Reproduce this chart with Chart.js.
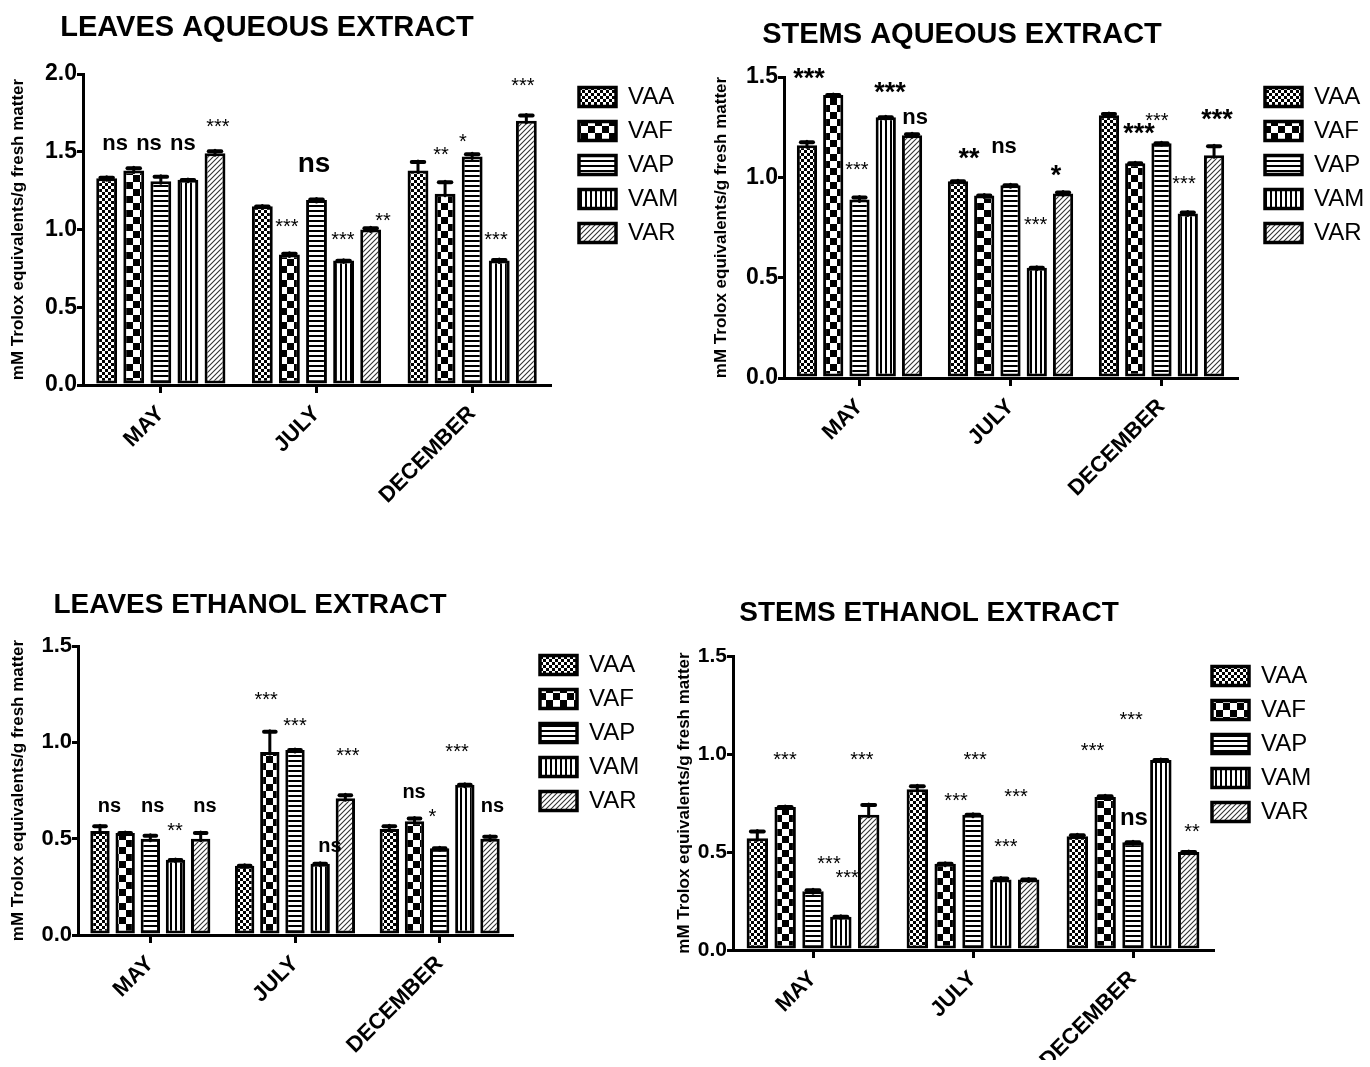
<!DOCTYPE html>
<html><head><meta charset="utf-8">
<script src="https://cdn.jsdelivr.net/npm/chart.js@4.4.1/dist/chart.umd.min.js"></script>
<style>
html,body{margin:0;padding:0;background:#fff;width:1370px;height:1067px;overflow:hidden;position:relative}
canvas{position:absolute}
</style></head><body>
<canvas id="c1"></canvas><canvas id="c2"></canvas><canvas id="c3"></canvas><canvas id="c4"></canvas>
<script>
// ---------- DATA ----------
const months = ['MAY', 'JULY', 'DECEMBER'];
const seriesNames = ['VAA', 'VAF', 'VAP', 'VAM', 'VAR'];
const yLabel = 'mM Trolox equivalents/g fresh matter';
const ticks20 = ['0.0', '0.5', '1.0', '1.5', '2.0'];
const ticks15 = ['0.0', '0.5', '1.0', '1.5'];

// Leaves aqueous extract (rows = VAA, VAF, VAP, VAM, VAR; cols = months)
const laMeans = [[1.33, 1.15, 1.38], [1.38, 0.84, 1.23], [1.31, 1.19, 1.47], [1.32, 0.80, 0.80], [1.49, 1.00, 1.70]];
const laErrors = [[0.01, 0.005, 0.06], [0.02, 0.01, 0.08], [0.035, 0.01, 0.02], [0.005, 0.005, 0.01], [0.02, 0.015, 0.04]];
// Stems aqueous extract
const saMeans = [[1.16, 0.98, 1.31], [1.41, 0.91, 1.07], [0.89, 0.96, 1.17], [1.30, 0.55, 0.82], [1.21, 0.92, 1.11]];
const saErrors = [[0.02, 0.005, 0.01], [0.005, 0.005, 0.005], [0.015, 0.005, 0.005], [0.005, 0.005, 0.01], [0.01, 0.01, 0.05]];
// Leaves ethanol extract
const leMeans = [[0.54, 0.36, 0.55], [0.53, 0.95, 0.59], [0.50, 0.96, 0.45], [0.39, 0.37, 0.78], [0.50, 0.71, 0.50]];
const leErrors = [[0.03, 0.005, 0.02], [0.005, 0.11, 0.02], [0.02, 0.005, 0.005], [0.005, 0.005, 0.005], [0.035, 0.02, 0.015]];
// Stems ethanol extract
const seMeans = [[0.57, 0.82, 0.58], [0.73, 0.44, 0.78], [0.30, 0.69, 0.55], [0.17, 0.36, 0.97], [0.69, 0.36, 0.50]];
const seErrors = [[0.04, 0.02, 0.01], [0.005, 0.005, 0.01], [0.01, 0.005, 0.005], [0.005, 0.01, 0.005], [0.055, 0.005, 0.005]];

// Significance labels: [text, category position (index units), value, class]
const laNotes = [['ns', -0.294, 1.553, 'B'], ['ns', -0.076, 1.553, 'B'], ['ns', 0.142, 1.553, 'B'], ['***', 0.367, 1.688, 'S'],
  ['ns', 0.984, 1.419, 'D'], ['***', 0.81, 1.041, 'S'], ['***', 1.17, 0.961, 'S'], ['**', 1.427, 1.08, 'S'],
  ['**', 1.80, 1.505, 'S'], ['*', 1.941, 1.591, 'S'], ['***', 2.153, 0.961, 'S'], ['***', 2.326, 1.951, 'S']];
const saNotes = [['***', -0.334, 1.517, 'L'], ['***', -0.017, 1.056, 'S'], ['***', 0.202, 1.447, 'L'], ['ns', 0.368, 1.298, 'B'],
  ['**', 0.725, 1.119, 'L'], ['ns', 0.957, 1.149, 'B'], ['***', 1.167, 0.784, 'S'], ['*', 1.301, 1.036, 'L'],
  ['***', 1.851, 1.241, 'L'], ['***', 1.970, 1.302, 'S'], ['***', 2.149, 0.988, 'S'], ['***', 2.368, 1.312, 'L']];
const leNotes = [['ns', -0.282, 0.665, 'A'], ['ns', 0.016, 0.665, 'A'], ['**', 0.170, 0.562, 'S'], ['ns', 0.378, 0.665, 'A'],
  ['***', 0.800, 1.241, 'S'], ['***', 1.000, 1.106, 'S'], ['ns', 1.242, 0.458, 'A'], ['***', 1.366, 0.950, 'S'],
  ['ns', 1.823, 0.738, 'A'], ['*', 1.949, 0.634, 'S'], ['***', 2.120, 0.973, 'S'], ['ns', 2.365, 0.665, 'A']];
const seNotes = [['***', -0.175, 0.991, 'S'], ['***', 0.100, 0.459, 'S'], ['***', 0.213, 0.386, 'S'], ['***', 0.306, 0.991, 'S'],
  ['***', 0.894, 0.782, 'S'], ['***', 1.013, 0.991, 'S'], ['***', 1.206, 0.544, 'S'], ['***', 1.269, 0.803, 'S'],
  ['***', 1.747, 1.035, 'S'], ['***', 1.988, 1.194, 'S'], ['ns', 2.006, 0.672, 'C'], ['**', 2.369, 0.622, 'S']];

// ---------- RENDERING ----------
const FAM = "'Liberation Sans', Arial, Helvetica, sans-serif";
Chart.defaults.font.family = FAM;
Chart.defaults.color = '#000';
const NOTE_FONTS = { S: '20px ' + FAM, A: 'bold 20px ' + FAM, B: 'bold 22px ' + FAM, C: 'bold 24px ' + FAM, D: 'bold 28px ' + FAM, L: 'bold 27px ' + FAM };

function tile(w, h, draw) {
  const c = document.createElement('canvas'); c.width = w; c.height = h;
  const g = c.getContext('2d'); g.fillStyle = '#fff'; g.fillRect(0, 0, w, h); g.fillStyle = '#000'; draw(g); return c;
}
function makePatterns(ctx) {
  const t = [
    tile(6, 6, g => { g.fillRect(0, 0, 3, 3); g.fillRect(3, 3, 3, 3); }),
    tile(14, 14, g => { g.fillRect(0, 0, 7, 7); g.fillRect(7, 7, 7, 7); }),
    tile(5, 5, g => { g.fillRect(0, 0, 5, 2); }),
    tile(5, 5, g => { g.fillRect(0, 0, 2, 5); }),
    tile(5, 5, g => { g.strokeStyle = '#333'; g.lineWidth = 1.1; g.beginPath();
      g.moveTo(-1, 6); g.lineTo(6, -1); g.moveTo(-1, 1); g.lineTo(1, -1); g.moveTo(4, 6); g.lineTo(6, 4); g.stroke(); })
  ];
  return t.map(c => ctx.createPattern(c, 'repeat'));
}

const errorBars = {
  id: 'errorBars',
  afterDatasetsDraw(chart, args, opts) {
    const ctx = chart.ctx, ys = chart.scales.y;
    chart.data.datasets.forEach((ds, di) => {
      const meta = chart.getDatasetMeta(di);
      meta.data.forEach((el, i) => {
        const yTop = ys.getPixelForValue(ds.data[i] + opts.errors[di][i]);
        const cw = el.width * 0.6;
        ctx.save(); ctx.strokeStyle = '#000'; ctx.lineCap = 'round';
        ctx.lineWidth = 3; ctx.beginPath(); ctx.moveTo(el.x, el.y + 2); ctx.lineTo(el.x, yTop); ctx.stroke();
        ctx.lineWidth = 4; ctx.beginPath(); ctx.moveTo(el.x - cw / 2, yTop + 1); ctx.lineTo(el.x + cw / 2, yTop + 1); ctx.stroke();
        ctx.restore();
      });
    });
  }
};
const notes = {
  id: 'notes',
  afterDatasetsDraw(chart, args, opts) {
    const ctx = chart.ctx, xs = chart.scales.x, ys = chart.scales.y;
    for (const [text, cx, cy, cls] of opts.items) {
      ctx.save(); ctx.font = NOTE_FONTS[cls]; ctx.fillStyle = '#000'; ctx.textAlign = 'center'; ctx.textBaseline = 'alphabetic';
      const m = ctx.measureText(text);
      ctx.fillText(text, xs.getPixelForValue(cx), ys.getPixelForValue(cy) + (m.actualBoundingBoxAscent - m.actualBoundingBoxDescent) / 2);
      ctx.restore();
    }
  }
};
const placer = {
  id: 'placer',
  afterLayout(chart, args, o) {
    const t = chart.titleBlock;
    if (t) { t.left = o.titleX - 400; t.right = o.titleX + 400; t.width = 800; t.top = o.titleY - o.titleSize / 2; t.bottom = t.top + o.titleSize; }
    const lg = chart.legend;
    if (lg) { const w = lg.width, h = lg.height; lg.left = o.legX - 10; lg.top = o.legY - 22; lg.right = lg.left + w; lg.bottom = lg.top + h; }
  }
};

function panel(id, box, area, title, titleSize, titleC, leg, yTitleX, yMax, tickLabels, tickSize, means, errors, items, xh) {
  const cv = document.getElementById(id);
  cv.width = box.w; cv.height = box.h; cv.style.left = box.x + 'px'; cv.style.top = box.y + 'px';
  const ctx = cv.getContext('2d');
  const pats = makePatterns(ctx);
  const l = area.l - box.x, t = area.t - box.y, r = area.r - box.x, b = area.b - box.y;
  const yTitleLH = 17 * 1.2;
  new Chart(ctx, {
    type: 'bar',
    data: {
      labels: months,
      datasets: seriesNames.map((n, i) => ({
        label: n, data: means[i], backgroundColor: pats[i], borderColor: '#000', borderWidth: 3, borderSkipped: false,
        categoryPercentage: 0.87, barPercentage: 0.77
      }))
    },
    options: {
      responsive: false, animation: false, events: [],
      layout: { padding: { left: 0, top: 0, right: box.w - r, bottom: box.h - b - xh } },
      scales: {
        x: {
          offset: true,
          afterFit: s => { s.height = xh; },
          border: { display: true, color: '#000', width: 3 },
          grid: { display: true, drawOnChartArea: false, offset: false, color: '#000', lineWidth: 3, tickLength: 8 },
          ticks: { autoSkip: false, maxRotation: 45, minRotation: 45, padding: 8, color: '#000', font: { size: 22, weight: 'bold' } }
        },
        y: {
          min: 0, max: yMax,
          afterFit: s => { s.width = l; },
          border: { display: true, color: '#000', width: 3 },
          grid: { display: true, drawOnChartArea: false, color: '#000', lineWidth: 3, tickLength: 6 },
          ticks: { stepSize: 0.5, padding: 0, color: '#000', font: { size: tickSize, weight: 'bold' },
            callback: (v, i) => tickLabels[i] },
          title: { display: true, text: yLabel, color: '#000', font: { size: 17, weight: 'bold' },
            padding: { top: (yTitleX - box.x) - yTitleLH / 2, bottom: 0 } }
        }
      },
      plugins: {
        tooltip: { enabled: false },
        title: { display: true, text: title, color: '#000', align: 'center', font: { size: titleSize, weight: 'bold', lineHeight: 1 },
          padding: { top: 0, bottom: t - titleSize } },
        legend: {
          position: 'chartArea', align: 'start',
          labels: { boxWidth: 37, boxHeight: 19, padding: 10, color: '#000', font: { size: 24 },
            generateLabels: ch => Chart.defaults.plugins.legend.labels.generateLabels(ch).map(it => Object.assign(it, { lineWidth: 3.5 })) }
        },
        placer: { titleX: titleC[0] - box.x, titleY: titleC[1] - box.y, titleSize: titleSize, legX: leg[0] - box.x, legY: leg[1] - box.y },
        errorBars: { errors: errors },
        notes: { items: items }
      }
    },
    plugins: [placer, errorBars, notes]
  });
}

panel('c1', { x: 0, y: 0, w: 700, h: 545 }, { l: 83, t: 74, r: 550, b: 385 }, 'LEAVES AQUEOUS EXTRACT', 29, [267, 28], [579, 97], 18, 2.0, ticks20, 23, laMeans, laErrors, laNotes, 120);
panel('c2', { x: 690, y: 0, w: 680, h: 545 }, { l: 784, t: 77, r: 1237, b: 378 }, 'STEMS AQUEOUS EXTRACT', 29, [962, 35], [1265, 97], 721, 1.5, ticks15, 23, saMeans, saErrors, saNotes, 120);
panel('c3', { x: 0, y: 560, w: 680, h: 507 }, { l: 78, t: 646, r: 512, b: 935 }, 'LEAVES ETHANOL EXTRACT', 28, [250, 605], [540, 665], 18, 1.5, ticks15, 22, leMeans, leErrors, leNotes, 120);
panel('c4', { x: 670, y: 570, w: 700, h: 497 }, { l: 733, t: 656, r: 1213, b: 950 }, 'STEMS ETHANOL EXTRACT', 28, [929, 613], [1212, 676], 684, 1.5, ticks15, 21, seMeans, seErrors, seNotes, 110);
</script>
</body></html>
